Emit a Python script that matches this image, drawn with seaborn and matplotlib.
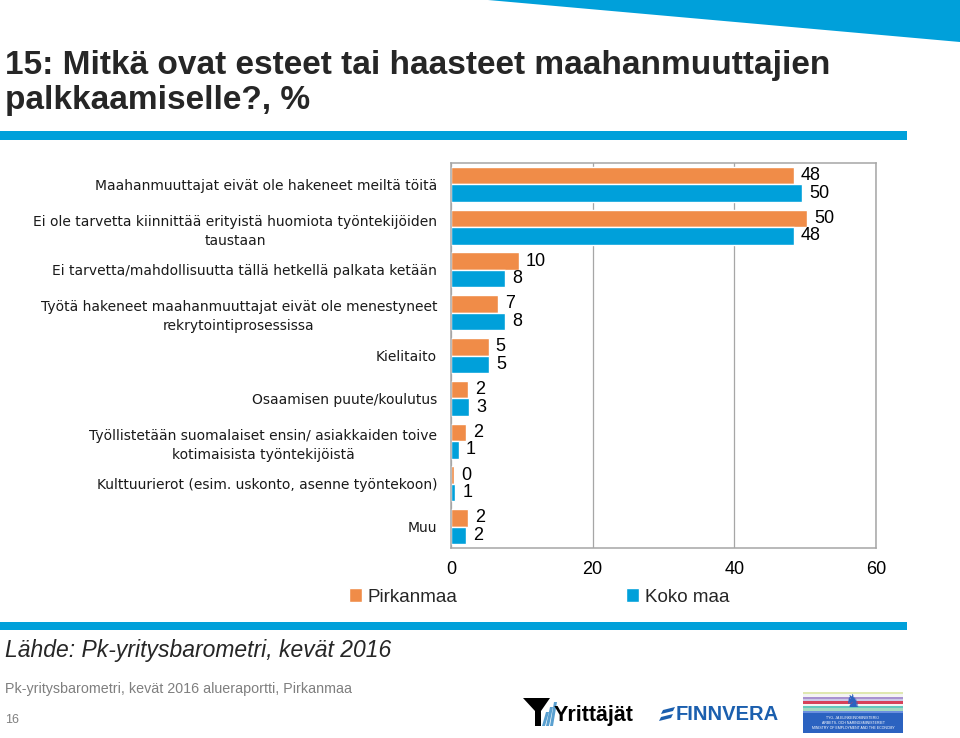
import pandas as pd
import matplotlib
matplotlib.use('Agg')
import matplotlib.pyplot as plt
import seaborn as sns
from matplotlib.patches import Polygon, Rectangle

# --- data ---
categories = [
    'Maahanmuuttajat eivät ole hakeneet meiltä töitä',
    'Ei ole tarvetta kiinnittää erityistä huomiota työntekijöiden\ntaustaan',
    'Ei tarvetta/mahdollisuutta tällä hetkellä palkata ketään',
    'Työtä hakeneet maahanmuuttajat eivät ole menestyneet\nrekrytointiprosessissa',
    'Kielitaito',
    'Osaamisen puute/koulutus',
    'Työllistetään suomalaiset ensin/ asiakkaiden toive\nkotimaisista työntekijöistä',
    'Kulttuurierot (esim. uskonto, asenne työntekoon)',
    'Muu',
]
series_names = ['Pirkanmaa', 'Koko maa']
pirkanmaa = [48.4, 50.3, 9.6, 6.6, 5.3, 2.4, 2.1, 0.4, 2.4]
koko_maa = [49.6, 48.4, 7.6, 7.6, 5.4, 2.6, 1.1, 0.6, 2.1]
x_ticks = [0, 20, 40, 60]

ORANGE = '#F08C48'
BLUE = '#00A0DA'
GRID = '#A6A6A6'

df = pd.DataFrame({
    'kategoria': categories * 2,
    'alue': [series_names[0]] * len(categories) + [series_names[1]] * len(categories),
    'osuus': pirkanmaa + koko_maa,
})

sns.set_theme(style='white')
plt.rcParams['font.family'] = ['Liberation Sans', 'DejaVu Sans']

fig = plt.figure(figsize=(9.6, 7.38), dpi=100)

# overlay in pixel coordinates for the slide decoration
deco = fig.add_axes([0, 0, 1, 1])
deco.set_xlim(0, 960)
deco.set_ylim(738, 0)
deco.axis('off')
deco.add_patch(Polygon([(488, 0), (960, 0), (960, 42)], closed=True, color=BLUE, lw=0))
deco.add_patch(Rectangle((0, 131), 907, 9, color=BLUE, lw=0))
deco.add_patch(Rectangle((0, 622), 907, 8, color=BLUE, lw=0))
deco.text(5, 50, '15: Mitkä ovat esteet tai haasteet maahanmuuttajien\npalkkaamiselle?, %',
          fontsize=24, fontweight='bold', color='#262626',
          va='top', ha='left', linespacing=1.15)
deco.text(5, 650, 'Lähde: Pk-yritysbarometri, kevät 2016', fontsize=16.5, style='italic',
          color='#262626', va='center')
deco.text(5, 689, 'Pk-yritysbarometri, kevät 2016 alueraportti, Pirkanmaa', fontsize=10.3,
          color='#7f7f7f', va='center')
deco.text(5, 720, '16', fontsize=9, color='#7f7f7f', va='center')

# logos (rough)
deco.add_patch(Polygon([(523, 698), (550, 698), (541, 711), (541, 726), (535, 726), (535, 711)],
                       closed=True, color='black', lw=0))
for i in range(3):
    deco.add_patch(Polygon([(546 + 4 * i, 712 - 5 * i), (549 + 4 * i, 712 - 5 * i),
                            (545 + 4 * i, 726), (542 + 4 * i, 726)],
                           closed=True, color='#5aa0d0', lw=0))
deco.text(554, 716, 'Yrittäjät', fontsize=15.5, fontweight='bold',
          color='black', va='center')
deco.add_patch(Polygon([(663, 710), (675, 707), (673, 711), (661, 714)], closed=True, color='#1b5fae', lw=0))
deco.add_patch(Polygon([(661, 717), (673, 714), (671, 718), (659, 721)], closed=True, color='#1b5fae', lw=0))
deco.text(676, 715, 'FINNVERA', fontsize=14.5, fontweight='bold',
          color='#1b5fae', va='center')
stripe_cols = ['#dfe8b0', '#f4f4f4', '#a992d0', '#c9c9e8', '#d7425a',
               '#f4f4f4', '#63c9bd', '#a4d9c0', '#6b8fe0']
for i, c in enumerate(stripe_cols):
    deco.add_patch(Rectangle((803, 692 + i * 2.35), 100, 2.35, color=c, lw=0))
deco.add_patch(Rectangle((803, 713), 100, 20, color='#2b62c0', lw=0))
deco.text(852, 702, '♞', fontsize=13, color='#2b62c0', ha='center', va='center',
          family=['DejaVu Sans'])
deco.text(853, 723, 'TYÖ- JA ELINKEINOMINISTERIÖ\nARBETS- OCH NÄRINGSMINISTERIET\nMINISTRY OF EMPLOYMENT AND THE ECONOMY',
          fontsize=2.5, color='white', ha='center', va='center', linespacing=1.3)

# --- the chart ---
ax = fig.add_axes([451 / 960, 1 - 548 / 738, 425 / 960, 385 / 738])
sns.barplot(data=df, y='kategoria', x='osuus', hue='alue', orient='h',
            palette=[ORANGE, BLUE], saturation=1, width=0.82, errorbar=None, ax=ax)

for cont in ax.containers:
    ax.bar_label(cont, fmt='%.0f', padding=5, fontsize=13, color='black')

ax.set_xlim(0, 60)
ax.set_xticks(x_ticks)
ax.set_xlabel('')
ax.set_ylabel('')
ax.xaxis.grid(True, color=GRID, lw=0.9)
ax.yaxis.grid(False)
ax.set_axisbelow(True)
for side in ['top', 'right', 'left', 'bottom']:
    ax.spines[side].set_visible(True)
    ax.spines[side].set_color(GRID)
    ax.spines[side].set_linewidth(1.1)
ax.tick_params(axis='x', length=0, pad=9, labelsize=13, labelcolor='black')
ax.tick_params(axis='y', length=0, pad=10, labelsize=10, labelcolor='#1a1a1a')
for lbl in ax.get_yticklabels():
    lbl.set_multialignment('center')
    lbl.set_family(['DejaVu Sans'])
    lbl.set_linespacing(1.45)

handles, labels = ax.get_legend_handles_labels()
ax.get_legend().remove()
fig.legend(handles, labels, loc='center', bbox_to_anchor=(539 / 960, 1 - 597 / 738),
           ncol=2, frameon=False, fontsize=13.5, handlelength=0.7, handleheight=0.7,
           handletextpad=0.3, columnspacing=9)

fig.savefig('out.png', dpi=100)
